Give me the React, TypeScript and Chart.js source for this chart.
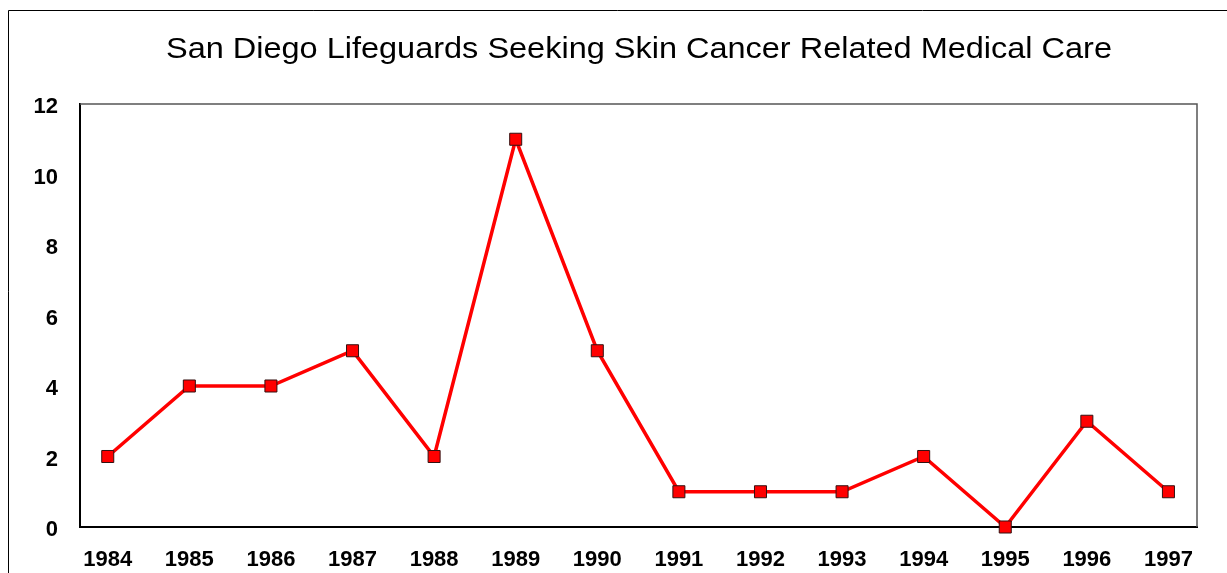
import React, { useEffect, useRef } from 'react';
import { Chart, registerables } from 'chart.js';

Chart.register(...registerables);

const TITLE = 'San Diego Lifeguards Seeking Skin Cancer Related Medical Care';
const years = [1984, 1985, 1986, 1987, 1988, 1989, 1990, 1991, 1992, 1993, 1994, 1995, 1996, 1997];
const cases = [2, 4, 4, 5, 2, 11, 5, 1, 1, 1, 2, 0, 3, 1];
const yMin = 0;
const yMax = 12;
const yStep = 2;

const FONT = '"Liberation Sans", Arial, Helvetica, sans-serif';

export default function App() {
  const ref = useRef<HTMLCanvasElement>(null);

  useEffect(() => {
    document.body.style.margin = '0';
    document.body.style.overflow = 'hidden';
    const canvas = ref.current;
    if (!canvas) return;

    const framePlugin = {
      id: 'frame',
      beforeDraw(chart: any) {
        const ctx = chart.ctx;
        ctx.save();
        ctx.fillStyle = '#ffffff';
        ctx.fillRect(0, 0, chart.width, chart.height);
        ctx.strokeStyle = '#000000';
        ctx.lineWidth = 1;
        ctx.beginPath();
        ctx.moveTo(8.5, chart.height);
        ctx.lineTo(8.5, 10.5);
        ctx.lineTo(chart.width, 10.5);
        ctx.stroke();
        ctx.font = `30px ${FONT}`;
        ctx.fillStyle = '#000000';
        ctx.textAlign = 'center';
        ctx.textBaseline = 'alphabetic';
        const w = ctx.measureText(TITLE).width;
        const sx = 946 / w;
        ctx.translate(639, 58);
        ctx.scale(sx, 1);
        ctx.fillText(TITLE, 0, 0);
        ctx.restore();
      },
      beforeDatasetsDraw(chart: any) {
        const { ctx, chartArea: a } = chart;
        ctx.save();
        ctx.strokeStyle = '#555555';
        ctx.lineWidth = 1.5;
        ctx.beginPath();
        ctx.moveTo(a.left, a.top);
        ctx.lineTo(a.right, a.top);
        ctx.lineTo(a.right, a.bottom);
        ctx.stroke();
        ctx.restore();
      },
    };

    const chart = new Chart(canvas, {
      type: 'line',
      data: {
        datasets: [
          {
            data: years.map((y, i) => ({ x: y, y: cases[i] })),
            borderColor: '#ff0000',
            borderWidth: 3.5,
            backgroundColor: '#ff0000',
            pointStyle: 'rect',
            pointRadius: 8.5,
            pointHoverRadius: 8.5,
            pointBackgroundColor: '#ff0000',
            pointBorderColor: '#331111',
            pointBorderWidth: 1,
            tension: 0,
            clip: false as any,
          },
        ],
      },
      options: {
        responsive: false,
        animation: false,
        layout: { padding: { left: 0, top: 104, right: 30, bottom: 0 } },
        plugins: {
          legend: { display: false },
          title: { display: false },
          tooltip: { enabled: false },
        },
        scales: {
          x: {
            type: 'linear',
            min: 1983.66,
            max: 1997.35,
            grid: { display: false, drawTicks: false },
            border: { display: true, color: '#000000', width: 2 },
            ticks: {
              stepSize: 1,
              includeBounds: false,
              autoSkip: false,
              maxRotation: 0,
              padding: 20,
              color: '#000000',
              font: { family: FONT, size: 22, weight: 'bold' },
              callback: (v: any) => String(v),
            },
            afterFit: (s: any) => {
              s.height = 46;
            },
          },
          y: {
            min: yMin,
            max: yMax,
            grid: { display: false, drawTicks: false },
            border: { display: true, color: '#000000', width: 2 },
            ticks: {
              stepSize: yStep,
              padding: 22,
              labelOffset: 3,
              color: '#000000',
              font: { family: FONT, size: 22, weight: 'bold' },
            },
            afterFit: (s: any) => {
              s.width = 80;
            },
          },
        },
      },
      plugins: [framePlugin],
    });

    return () => chart.destroy();
  }, []);

  return (
    <div style={{ width: 1227, height: 573 }}>
      <canvas ref={ref} width={1227} height={573} />
    </div>
  );
}
